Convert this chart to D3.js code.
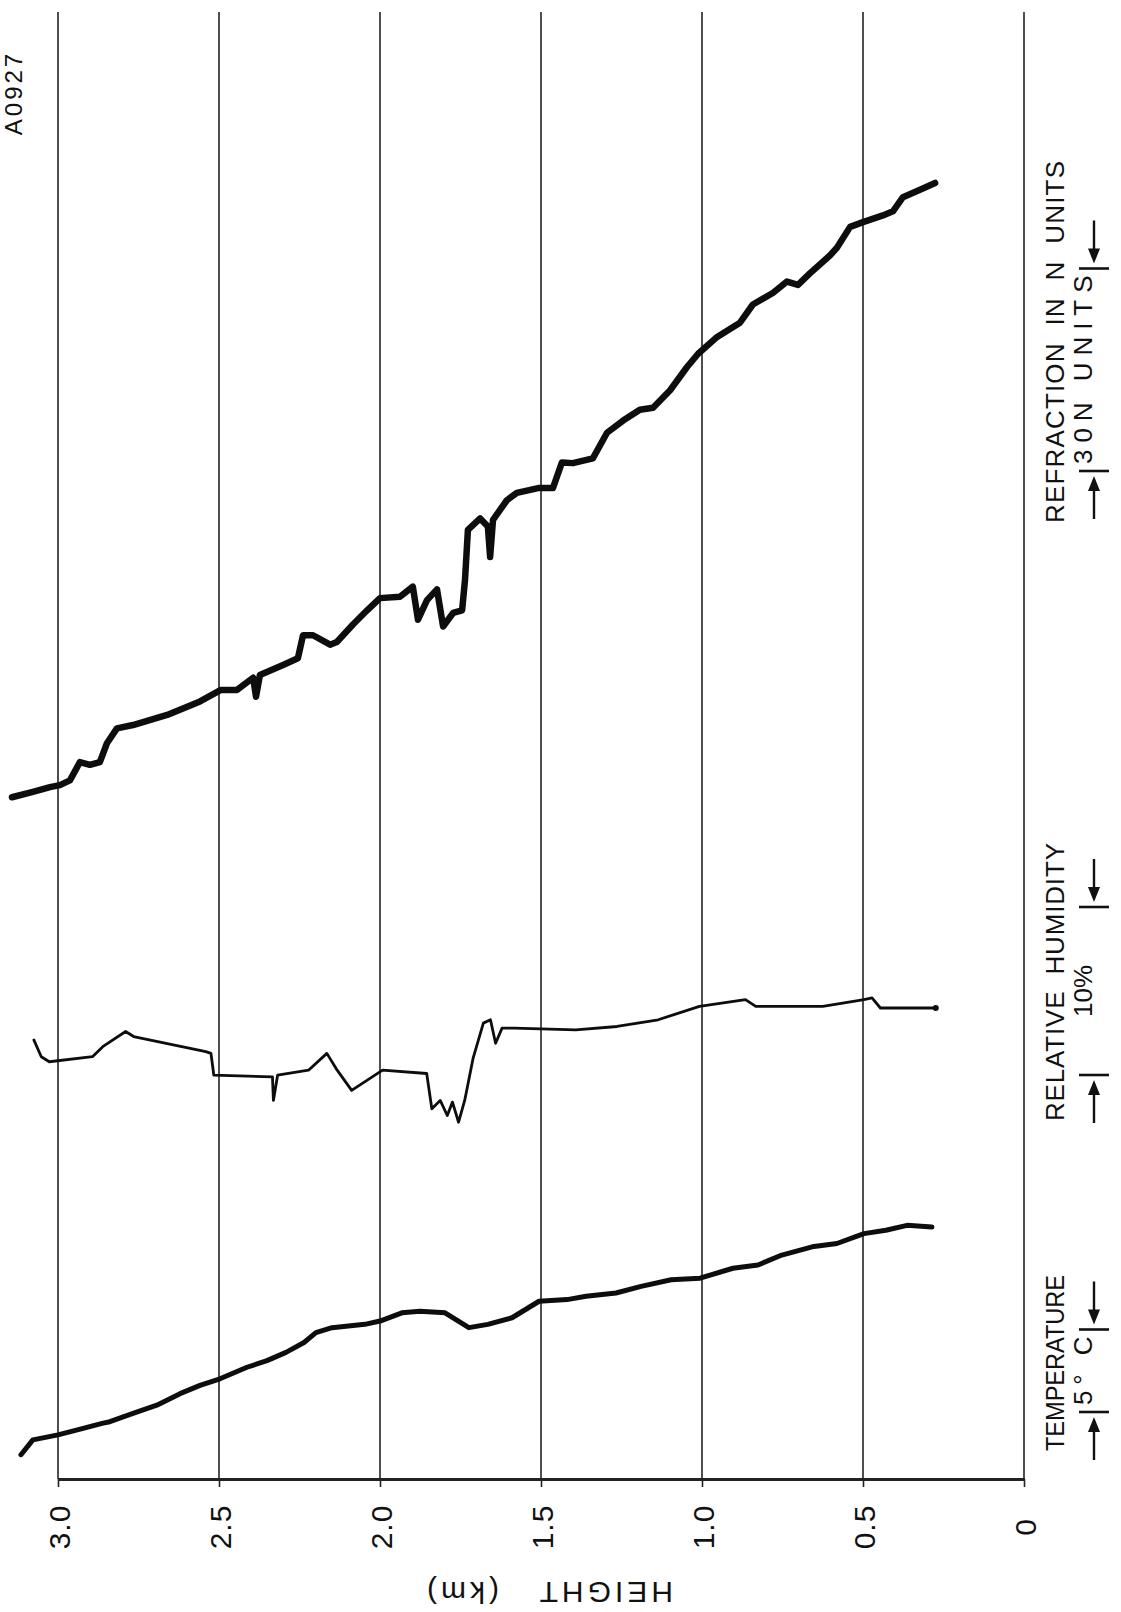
<!DOCTYPE html>
<html>
<head>
<meta charset="utf-8">
<script src="https://cdn.jsdelivr.net/npm/d3@7"></script>
<style>
  body { margin: 0; background: #fff; }
  text { font-family: "Liberation Sans", "DejaVu Sans", sans-serif; fill: #111; white-space: pre; }
</style>
</head>
<body>
<svg id="chart" width="1121" height="1612"></svg>
<script>
// Height axis (km)
const heightTicks = [3.0, 2.5, 2.0, 1.5, 1.0, 0.5, 0];
const heightTickLabels = ["3.0", "2.5", "2.0", "1.5", "1.0", "0.5", "0"];

// Refraction profile: height (km) and N units
const refractionHeight = [3.143, 3.078, 3.025, 2.994, 2.963, 2.932, 2.901, 2.870, 2.848, 2.817, 2.767, 2.661, 2.559, 2.494, 2.444, 2.394, 2.385, 2.373, 2.301, 2.255, 2.239, 2.208, 2.155, 2.134, 2.084, 2.040, 2.000, 1.938, 1.898, 1.882, 1.854, 1.823, 1.804, 1.773, 1.745, 1.736, 1.727, 1.689, 1.665, 1.658, 1.649, 1.606, 1.575, 1.509, 1.463, 1.435, 1.401, 1.339, 1.295, 1.245, 1.193, 1.152, 1.099, 1.047, 1.012, 0.953, 0.882, 0.842, 0.780, 0.736, 0.702, 0.665, 0.602, 0.581, 0.540, 0.500, 0.438, 0.407, 0.376, 0.323, 0.276];
const refractionN = [229.0, 229.8, 230.5, 230.8, 231.5, 234.2, 233.8, 234.2, 237.0, 239.2, 239.7, 241.2, 243.2, 244.9, 244.9, 246.7, 243.9, 247.1, 248.6, 249.6, 253.0, 253.0, 251.6, 252.0, 254.6, 256.7, 258.5, 258.7, 260.2, 255.3, 258.2, 259.8, 254.3, 256.3, 256.7, 261.2, 268.6, 270.3, 269.1, 264.6, 270.1, 273.0, 274.1, 274.8, 274.8, 278.6, 278.5, 279.2, 283.0, 284.8, 286.4, 286.7, 289.3, 292.7, 294.7, 297.2, 299.3, 302.0, 303.7, 305.4, 304.9, 306.6, 309.3, 310.4, 313.5, 314.2, 315.2, 315.8, 317.9, 319.0, 320.0];

// Relative humidity profile: height (km) and percent
const humidityHeight = [3.075, 3.052, 3.027, 2.893, 2.861, 2.790, 2.765, 2.541, 2.525, 2.516, 2.334, 2.331, 2.318, 2.222, 2.165, 2.133, 2.088, 1.992, 1.855, 1.839, 1.813, 1.791, 1.775, 1.756, 1.737, 1.711, 1.679, 1.657, 1.641, 1.621, 1.583, 1.392, 1.264, 1.136, 1.008, 0.865, 0.833, 0.625, 0.497, 0.472, 0.446, 0.274];
const humidityRH = [73.1, 72.1, 71.8, 72.1, 72.7, 73.6, 73.3, 72.4, 72.3, 71.0, 70.9, 69.5, 71.0, 71.3, 72.3, 71.3, 70.1, 71.3, 71.1, 69.0, 69.5, 68.6, 69.4, 68.2, 69.5, 72.0, 74.1, 74.3, 72.9, 73.8, 73.8, 73.7, 73.9, 74.3, 75.1, 75.5, 75.1, 75.1, 75.5, 75.6, 75.0, 75.0];

// Temperature profile: height (km) and degrees C
const temperatureHeight = [3.115, 3.078, 3.000, 2.922, 2.863, 2.839, 2.767, 2.693, 2.621, 2.559, 2.497, 2.413, 2.351, 2.292, 2.236, 2.199, 2.149, 2.047, 2.000, 1.932, 1.876, 1.798, 1.724, 1.665, 1.590, 1.506, 1.419, 1.360, 1.267, 1.189, 1.096, 1.006, 0.904, 0.826, 0.752, 0.658, 0.581, 0.497, 0.429, 0.363, 0.286];
const temperatureC = [0.2, 1.1, 1.4, 1.8, 2.1, 2.2, 2.7, 3.2, 3.9, 4.4, 4.8, 5.5, 5.9, 6.4, 7.0, 7.6, 7.9, 8.1, 8.3, 8.8, 8.9, 8.8, 7.9, 8.1, 8.5, 9.5, 9.6, 9.8, 10.0, 10.4, 10.8, 10.9, 11.5, 11.7, 12.3, 12.8, 13.0, 13.6, 13.8, 14.1, 14.0];

// Scale-bar spans for each trace
const refractionSpan = 30;   // N units
const humiditySpan = 10;     // percent
const temperatureSpan = 5;   // degrees C

const svg = d3.select("#chart");
const frame = { left: 58, right: 1024, top: 12, bottom: 1479 };

// Height runs right-to-left along the horizontal axis
const x = d3.scaleLinear().domain([0, 3]).range([frame.right, frame.left]);
// Each trace has its own value scale running upward
const yN = d3.scaleLinear().domain([320, 230]).range([183, 790.5]);
const yRH = d3.scaleLinear().domain([75, 65]).range([1008, 1176]);
const yT = d3.scaleLinear().domain([14, 0]).range([1227, 1458]);

// Vertical grid lines at each height tick
svg.append("g")
  .selectAll("line")
  .data(heightTicks)
  .join("line")
  .attr("x1", d => x(d)).attr("x2", d => x(d))
  .attr("y1", frame.top).attr("y2", frame.bottom)
  .attr("stroke", "#222").attr("stroke-width", 1.6);

// Height axis along the bottom
const axis = d3.axisBottom(x)
  .tickValues(heightTicks)
  .tickSize(8)
  .tickSizeOuter(0)
  .tickFormat((d, i) => heightTickLabels[i]);

const axisG = svg.append("g")
  .attr("transform", `translate(0,${frame.bottom})`)
  .call(axis);
axisG.select(".domain").attr("stroke", "#222").attr("stroke-width", 3);
axisG.selectAll(".tick line").attr("stroke", "#222").attr("stroke-width", 1.6);
axisG.selectAll(".tick text")
  .attr("y", null).attr("dy", null)
  .attr("transform", "translate(11,48) rotate(-90)")
  .attr("text-anchor", "middle")
  .style("font-size", "30px")
  .style("letter-spacing", "1px")
  .attr("fill", "#111");

// Axis title, set upside down
svg.append("text")
  .attr("transform", "translate(548,1593) rotate(180)")
  .attr("text-anchor", "middle")
  .attr("dy", "0.36em")
  .style("font-size", "30px")
  .style("letter-spacing", "4px")
  .text("HEIGHT   (km)");

// Sheet identifier at the top left
svg.append("text")
  .attr("transform", "translate(22,93) rotate(-90)")
  .attr("text-anchor", "middle")
  .style("font-size", "24px")
  .style("letter-spacing", "3px")
  .text("A0927");

// Traces
function trace(hs, vs, yScale, width) {
  const pts = hs.map((h, i) => [x(h), yScale(vs[i])]);
  svg.append("path")
    .attr("d", d3.line().curve(d3.curveLinear)(pts))
    .attr("fill", "none")
    .attr("stroke", "#0d0d0d")
    .attr("stroke-width", width)
    .attr("stroke-linejoin", "round")
    .attr("stroke-linecap", "round");
  return pts;
}
trace(refractionHeight, refractionN, yN, 6.5);
const rhPts = trace(humidityHeight, humidityRH, yRH, 2.8);
trace(temperatureHeight, temperatureC, yT, 5);
// small terminal dot on the humidity trace
const rhEnd = rhPts[rhPts.length - 1];
svg.append("circle").attr("cx", rhEnd[0]).attr("cy", rhEnd[1]).attr("r", 3).attr("fill", "#0d0d0d");

// Trace titles and scale bars in the right margin
const titleX = 1064;
const barX = 1094;

function title(text, yCenter, length, squeeze) {
  svg.append("text")
    .attr("transform", `translate(${titleX},${yCenter}) rotate(-90)`)
    .attr("text-anchor", "middle")
    .style("font-size", "26px")
    .attr("textLength", length)
    .attr("lengthAdjust", squeeze ? "spacingAndGlyphs" : "spacing")
    .text(text);
}

function scaleBar(label, yLow, pxSpan, fill) {
  const yHigh = yLow - pxSpan;
  const g = svg.append("g").attr("stroke", "#111").attr("fill", "#111");
  // end bars
  [yLow, yHigh].forEach(yy => {
    g.append("line").attr("x1", barX - 15).attr("x2", barX + 15)
      .attr("y1", yy).attr("y2", yy).attr("stroke-width", 2.6);
  });
  // arrow pointing up to the lower bar
  g.append("line").attr("x1", barX).attr("x2", barX)
    .attr("y1", yLow + 48).attr("y2", yLow + 16).attr("stroke-width", 2.4);
  g.append("path").attr("stroke", "none")
    .attr("d", `M${barX},${yLow + 5} L${barX - 6},${yLow + 20} L${barX + 6},${yLow + 20} Z`);
  // arrow pointing down to the upper bar
  g.append("line").attr("x1", barX).attr("x2", barX)
    .attr("y1", yHigh - 48).attr("y2", yHigh - 16).attr("stroke-width", 2.4);
  g.append("path").attr("stroke", "none")
    .attr("d", `M${barX},${yHigh - 5} L${barX - 6},${yHigh - 20} L${barX + 6},${yHigh - 20} Z`);
  const t = svg.append("text")
    .attr("transform", `translate(${barX - 2},${(yLow + yHigh) / 2}) rotate(-90)`)
    .attr("text-anchor", "middle")
    .style("font-size", "26px")
    .text(label);
  if (fill) t.attr("textLength", pxSpan - 14).attr("lengthAdjust", "spacing");
}

title("REFRACTION  IN  N  UNITS", 342, 362, false);
scaleBar("30N UNITS", 471, Math.abs(yN(320 - refractionSpan) - yN(320)), true);

title("RELATIVE  HUMIDITY", 982, 278, false);
scaleBar("10%", 1075, Math.abs(yRH(75 - humiditySpan) - yRH(75)), false);

title("TEMPERATURE", 1363, 176, true);
scaleBar("5° C", 1412, Math.abs(yT(14 - temperatureSpan) - yT(14)), true);
</script>
</body>
</html>
